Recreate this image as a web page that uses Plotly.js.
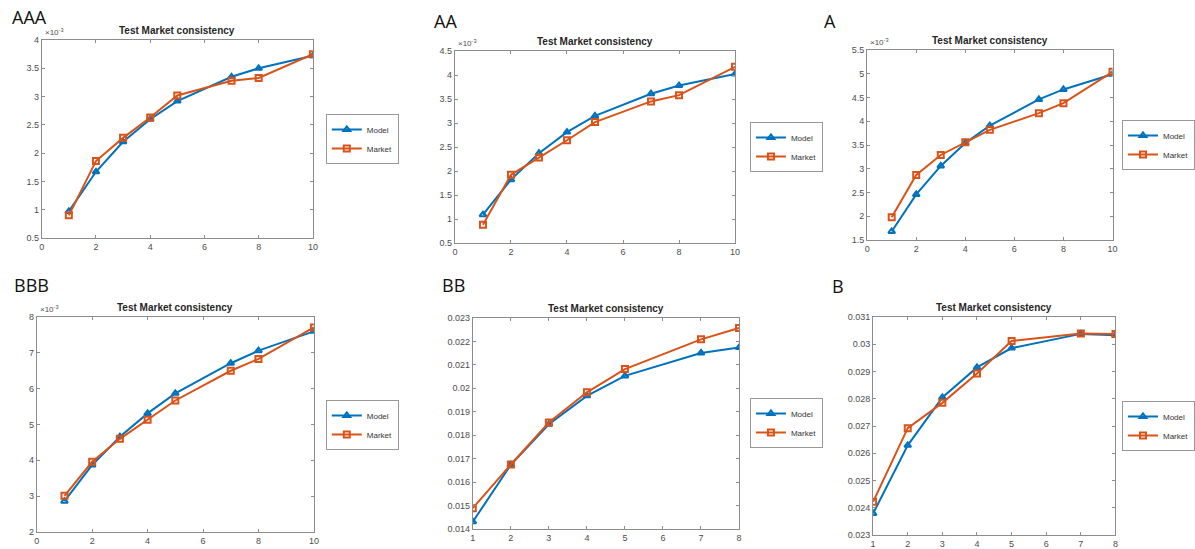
<!DOCTYPE html>
<html>
<head>
<meta charset="utf-8">
<script src="https://cdn.plot.ly/plotly-3.0.1.min.js"></script>
<style>html,body{margin:0;padding:0;background:#fff;}#chart{width:1195px;height:549px;}</style>
</head>
<body>
<div id="chart"></div>
<script>
// ---- data ----
const panelLabels = ["AAA", "AA", "A", "BBB", "BB", "B"];
const chartTitle = "Test Market consistency";
const seriesNames = ["Model", "Market"];
const maturitiesLong = [1, 2, 3, 4, 5, 7, 8, 10];
const maturitiesShort = [1, 2, 3, 4, 5, 7, 8];
// values for AAA, AA, A, BBB are in units of 1e-3 (as the axes show)
const aaaModel  = [0.97, 1.67, 2.20, 2.60, 2.92, 3.35, 3.50, 3.72];
const aaaMarket = [0.90, 1.86, 2.27, 2.63, 3.02, 3.28, 3.33, 3.75];
const aaModel   = [1.09, 1.82, 2.37, 2.81, 3.15, 3.61, 3.78, 4.02];
const aaMarket  = [0.88, 1.92, 2.28, 2.64, 3.02, 3.45, 3.58, 4.17];
const aModel    = [1.68, 2.46, 3.06, 3.54, 3.91, 4.46, 4.67, 4.99];
const aMarket   = [1.98, 2.87, 3.29, 3.56, 3.82, 4.17, 4.38, 5.04];
const bbbModel  = [2.86, 3.87, 4.66, 5.31, 5.87, 6.71, 7.06, 7.60];
const bbbMarket = [3.01, 3.96, 4.60, 5.13, 5.67, 6.50, 6.83, 7.71];
const bbModel   = [0.01431, 0.01674, 0.01847, 0.01968, 0.02053, 0.02151, 0.02174];
const bbMarket  = [0.01489, 0.01675, 0.01854, 0.01983, 0.02082, 0.02209, 0.02257];
const bModel    = [0.02379, 0.02629, 0.02805, 0.02915, 0.02986, 0.03038, 0.03033];
const bMarket   = [0.02422, 0.02692, 0.02785, 0.02893, 0.03012, 0.03039, 0.03038];
const exponentLabel = "\u00d710<sup>-3</sup>";

// ---- layout helpers ----
const W = 1195, H = 549;
const px = v => v / W, py = v => 1 - v / H;

const panels = [
  {x: maturitiesLong,  m: aaaModel, k: aaaMarket, box: [42, 315, 40, 238],  yr: [0.5, 4],   yd: 0.5,  xr: [0, 10], xd: 2, leg: [328, 114], lab: [10, 17],  exp: true},
  {x: maturitiesLong,  m: aaModel,  k: aaMarket,  box: [458, 740, 51, 243], yr: [0.5, 4.5], yd: 0.5,  xr: [0, 10], xd: 2, leg: [755, 122], lab: [435, 21], exp: true},
  {x: maturitiesLong,  m: aModel,   k: aMarket,   box: [873, 1120, 50, 240],yr: [1.5, 5.5], yd: 0.5,  xr: [0, 10], xd: 2, leg: [1130, 120],lab: [828, 21], exp: true},
  {x: maturitiesLong,  m: bbbModel, k: bbbMarket, box: [37, 316, 317, 532], yr: [2, 8],     yd: 1,    xr: [0, 10], xd: 2, leg: [328, 400], lab: [12, 285], exp: true},
  {x: maturitiesShort, m: bbModel,  k: bbMarket,  box: [476, 744, 318, 529],yr: [0.014, 0.023], yd: 0.001, xr: [1, 8], xd: 1, leg: [755, 398], lab: [443, 285], exp: false},
  {x: maturitiesShort, m: bModel,   k: bMarket,   box: [879, 1123, 317, 535],yr: [0.023, 0.031], yd: 0.001, xr: [1, 8], xd: 1, leg: [1130, 401], lab: [836, 286], exp: false}
];

const blue = "#0072BD", orange = "#D95319";
const data = [];
const layout = {
  width: W, height: H,
  margin: {l: 0, r: 0, t: 0, b: 0},
  paper_bgcolor: "#fff", plot_bgcolor: "#fff",
  font: {family: "Liberation Sans, Arial, sans-serif", color: "#4d4d4d", size: 9},
  annotations: []
};

panels.forEach((p, i) => {
  const s = i === 0 ? "" : String(i + 1);
  const legName = "legend" + s;
  [[p.m, blue, "triangle-up-open", seriesNames[0]], [p.k, orange, "square-open", seriesNames[1]]].forEach(([ys, c, sym, name]) => {
    data.push({
      type: "scatter", mode: "lines+markers", name: name,
      x: p.x, y: ys, xaxis: "x" + s, yaxis: "y" + s, legend: legName,
      line: {color: c, width: 2},
      marker: {symbol: sym, size: 6, color: c, line: {color: c, width: 2}},
      hoverinfo: "skip"
    });
  });
  const axCommon = {
    showgrid: false, zeroline: false, showline: true, linecolor: "#8c8c8c", linewidth: 1,
    mirror: "allticks", ticks: "inside", ticklen: 3, tickcolor: "#8c8c8c",
    tickfont: {size: 9, color: "#4d4d4d"}, fixedrange: true
  };
  layout["xaxis" + s] = Object.assign({}, axCommon, {
    domain: [px(p.box[0]), px(p.box[1])], anchor: "y" + s,
    range: p.xr, dtick: p.xd, tick0: 0
  });
  layout["yaxis" + s] = Object.assign({}, axCommon, {
    domain: [py(p.box[3]), py(p.box[2])], anchor: "x" + s,
    range: p.yr, dtick: p.yd, tick0: 0
  });
  layout[legName] = {
    x: px(p.leg[0]), y: py(p.leg[1]), xanchor: "left", yanchor: "top",
    xref: "paper", yref: "paper",
    bgcolor: "#fff", bordercolor: "#999", borderwidth: 1,
    font: {size: 8, color: "#333"}, itemwidth: 30, tracegroupgap: 0
  };
  // subplot title
  layout.annotations.push({
    text: "<b>" + chartTitle + "</b>", xref: "paper", yref: "paper",
    x: px((p.box[0] + p.box[1]) / 2), y: py(p.box[2] - 2), xanchor: "center", yanchor: "bottom",
    showarrow: false, font: {size: 10, color: "#262626"}
  });
  // panel label
  layout.annotations.push({
    text: panelLabels[i], xref: "paper", yref: "paper",
    x: px(p.lab[0]), y: py(p.lab[1]), xanchor: "left", yanchor: "middle",
    showarrow: false, font: {size: 18, color: "#111", family: "Open Sans, Liberation Sans, sans-serif"}
  });
  if (p.exp) {
    layout.annotations.push({
      text: exponentLabel, xref: "paper", yref: "paper",
      x: px(p.box[0] + 1), y: py(p.box[2] - 1), xanchor: "left", yanchor: "bottom",
      showarrow: false, font: {size: 8, color: "#4d4d4d"}
    });
  }
});

Plotly.newPlot("chart", data, layout, {staticPlot: true, displayModeBar: false});
</script>
</body>
</html>
